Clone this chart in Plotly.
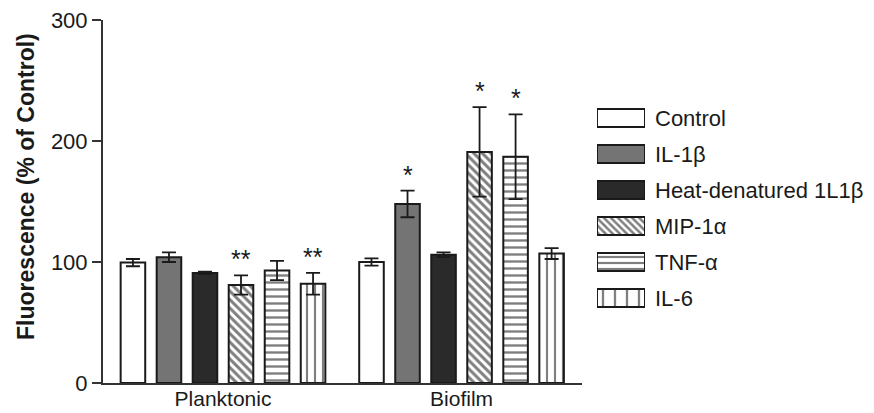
import plotly.graph_objects as go

# ---- data -------------------------------------------------------------
groups = ["Planktonic", "Biofilm"]
series = ["Control", "IL-1\u03b2", "Heat-denatured 1L1\u03b2", "MIP-1\u03b1", "TNF-\u03b1", "IL-6"]

control_vals = [99.5, 100]
il1b_vals = [104, 148]
heat_vals = [91, 106]
mip_vals = [81, 191]
tnf_vals = [93, 187]
il6_vals = [82, 107]

control_err = [3, 3]
il1b_err = [4, 11]
heat_err = [1, 2]
mip_err = [8, 37]
tnf_err = [8, 35]
il6_err = [9, 4.5]

control_sig = ["", ""]
il1b_sig = ["", "*"]
heat_sig = ["", ""]
mip_sig = ["**", "*"]
tnf_sig = ["", "*"]
il6_sig = ["**", ""]

y_ticks = [0, 100, 200, 300]

values = [control_vals, il1b_vals, heat_vals, mip_vals, tnf_vals, il6_vals]
errors = [control_err, il1b_err, heat_err, mip_err, tnf_err, il6_err]
signif = [control_sig, il1b_sig, heat_sig, mip_sig, tnf_sig, il6_sig]

# ---- styles -----------------------------------------------------------
FONT = "Liberation Sans, Arial, Helvetica, sans-serif"
INK = "#1a1a1a"
SLOT = 0.151      # distance between neighbouring bars in a group
BAR_W = 0.103     # bar width (x-axis units)
TXT = 22


def hatch(shape, size, solidity):
    return dict(shape=shape, size=size, solidity=solidity,
                fgcolor="#000000", bgcolor="white", fillmode="overlay")


bar_colors = ["white", "#747474", "#2a2a2a", "white", "white", "white"]
bar_patterns = [None, None, None, hatch("\\", 6, 0.5), hatch("-", 7, 0.34), hatch("|", 8, 0.27)]
legend_patterns = [None, None, None, hatch("\\", 5, 0.5), hatch("-", 6, 0.36), hatch("|", 12, 0.19)]

fig = go.Figure()
annotations = []

n = len(series)
for i, name in enumerate(series):
    offset = (i - (n - 1) / 2) * SLOT
    xs = [g + offset for g in range(len(groups))]
    marker = dict(color=bar_colors[i], line=dict(color=INK, width=2))
    if bar_patterns[i] is not None:
        marker["pattern"] = bar_patterns[i]
    fig.add_trace(go.Bar(
        x=xs, y=values[i], width=BAR_W, name=name, marker=marker,
        error_y=dict(type="data", array=errors[i], color=INK, thickness=1.8, width=7),
        showlegend=False, xaxis="x", yaxis="y",
    ))
    for x, v, e, s in zip(xs, values[i], errors[i], signif[i]):
        if s:
            annotations.append(dict(
                x=x, y=v + e, xref="x", yref="y", text=s, showarrow=False,
                yanchor="bottom", xanchor="center", yshift=0,
                font=dict(family=FONT, size=25, color=INK),
            ))

# ---- legend built from a second pair of axes ----------------------------
for i, name in enumerate(series):
    marker = dict(color=bar_colors[i], line=dict(color=INK, width=2))
    if legend_patterns[i] is not None:
        marker["pattern"] = legend_patterns[i]
    fig.add_trace(go.Bar(
        x=[1], y=[i], base=0, orientation="h", width=0.5, marker=marker,
        showlegend=False, hoverinfo="skip", xaxis="x2", yaxis="y2",
    ))
    annotations.append(dict(
        x=0.7134, y=i, xref="paper", yref="y2", text=name, showarrow=False,
        xanchor="left", yanchor="middle",
        font=dict(family=FONT, size=TXT, color=INK),
    ))

# y-axis title
annotations.append(dict(
    x=-0.099, y=0.542, xref="paper", yref="paper",
    text="<b>Fluorescence (% of Control)</b>", textangle=-90, showarrow=False,
    xanchor="center", yanchor="middle",
    font=dict(family=FONT, size=23, color=INK),
))

fig.update_layout(
    width=874, height=413,
    margin=dict(l=103, r=0, t=20, b=30, autoexpand=False),
    paper_bgcolor="white", plot_bgcolor="white",
    font=dict(family=FONT, size=TXT, color=INK),
    showlegend=False,
    barmode="overlay",
    annotations=annotations,
    xaxis=dict(
        domain=[0, 0.6213], range=[-0.503, 1.505], automargin=False,
        tickvals=list(range(len(groups))), ticktext=groups,
        showline=True, linecolor="#333333", linewidth=2,
        ticks="", showgrid=False, zeroline=False,
        tickfont=dict(family=FONT, size=21, color=INK),
        ticklabelstandoff=-4,
    ),
    yaxis=dict(
        domain=[0, 1], range=[0, 300], tickvals=y_ticks, automargin=False,
        showline=True, linecolor="#333333", linewidth=2,
        ticks="outside", ticklen=9, tickwidth=2, tickcolor="#333333",
        showgrid=False, zeroline=False,
        tickfont=dict(family=FONT, size=TXT, color=INK),
    ),
    xaxis2=dict(
        domain=[0.6407, 0.7030], range=[0, 1], anchor="y2",
        visible=False, fixedrange=True,
    ),
    yaxis2=dict(
        domain=[0, 1], range=[7.361, -2.722], anchor="x2",
        visible=False, fixedrange=True,
    ),
)

fig.write_html("out.html")
